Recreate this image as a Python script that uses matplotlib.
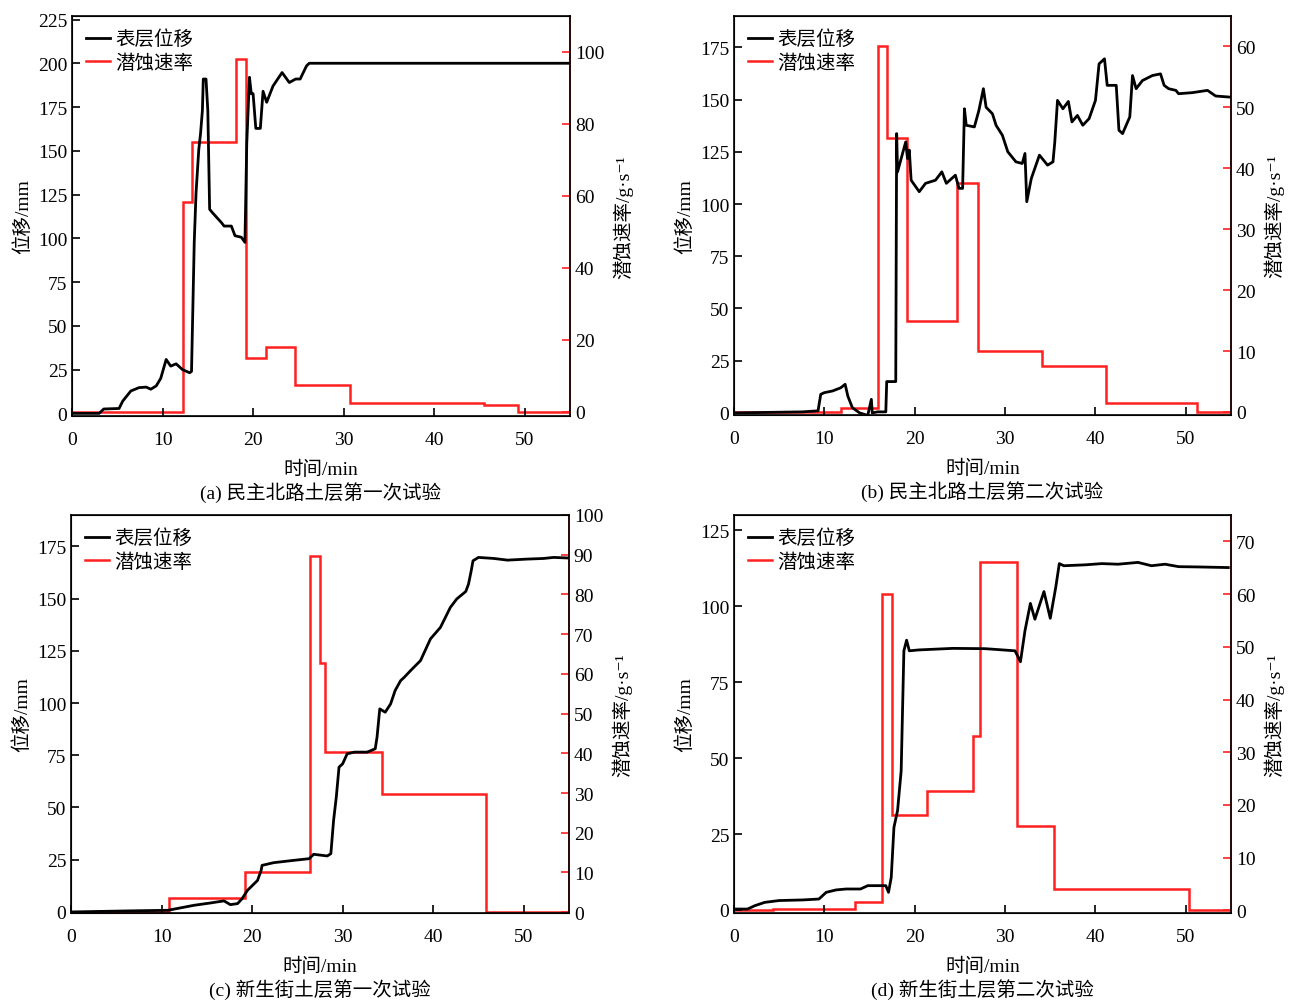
import numpy as np
import matplotlib
matplotlib.use('Agg')
import matplotlib.pyplot as plt

plt.rcParams['font.family'] = ['Liberation Serif', 'Noto Sans CJK SC', 'DejaVu Serif']
plt.rcParams['axes.unicode_minus'] = False

# ---------- (a) 民主北路土层第一次试验 ----------
t_a = [0, 3.0, 3.5, 5.2, 5.6, 6.5, 7.4, 8.2, 8.7, 9.3, 9.8, 10.4, 10.9, 11.5, 12.2, 13.0,
       13.2, 13.5, 13.7, 14.0, 14.2, 14.4, 14.5, 14.8, 15.0, 15.2, 15.5, 16.5, 16.8, 17.6,
       18.0, 18.7, 19.1, 19.3, 19.6, 19.8, 20.0, 20.3, 20.8, 21.1, 21.5, 22.2, 23.2, 24.0,
       24.7, 25.2, 25.9, 26.2, 55]
d_a = [0, 0, 2.5, 2.8, 7, 12.8, 14.7, 15, 13.8, 15.7, 20, 30.8, 27, 28.3, 25, 23.2,
       24, 97.7, 126, 150.6, 160, 173, 191, 191, 173, 116.6, 114.7, 109, 107, 107,
       101.5, 100.6, 97.7, 154, 192, 182.6, 182.6, 162.8, 162.8, 184, 177.7, 187, 194.7, 189,
       191, 191, 198.5, 200, 200]
e_a = [0, 12.3, 13.3, 18.1, 19.2, 21.4, 24.6, 30.7, 45.5, 49.3, 55]
r_a = [0, 58.3, 75, 98, 15, 18, 7.4, 2.5, 1.9, 0]

# ---------- (b) 民主北路土层第二次试验 ----------
t_b = [0, 7.6, 9.3, 9.6, 10.0, 10.9, 11.8, 12.3, 12.6, 13.1, 13.9, 14.8, 15.2, 15.3, 15.9,
       16.8, 16.9, 17.9, 18.0, 18.1, 19.0, 19.2, 19.4, 19.6, 20.5, 21.2, 22.3, 23.0, 23.5,
       24.5, 24.9, 25.3, 25.5, 25.7, 26.6, 27.1, 27.6, 27.9, 28.6, 29.0, 29.7, 30.3, 30.6,
       31.2, 31.9, 32.2, 32.4, 32.9, 33.8, 34.7, 35.3, 35.5, 35.8, 36.4, 37.0, 37.4, 38.0,
       38.6, 39.3, 40.0, 40.4, 41.0, 41.3, 42.3, 42.6, 43.0, 43.8, 44.1, 44.5, 45.2, 46.3,
       47.2, 47.6, 48.1, 48.9, 49.2, 50.7, 52.4, 53.3, 54.8]
d_b = [0, 0.5, 1, 8.9, 9.7, 10.5, 12, 13.7, 8, 2.5, 0, -1.2, 6.5, 0, 0.5,
       0.5, 15, 15, 133.7, 115.4, 129.7, 121.8, 125.8, 111.4, 105.9, 109.9, 111.4, 115.4, 109.9,
       113.8, 107.5, 107.5, 145.6, 137.7, 136.9, 144.8, 155.2, 146.3, 143.2, 137.7, 132.9, 125, 123.4,
       120.2, 119.4, 124.2, 101.1, 112.2, 123.4, 118.6, 120.2, 129.7, 149.6, 145.6, 149.1, 139.3, 142.4,
       137.7, 140.9, 149.6, 167.1, 169.5, 156.8, 156.8, 135.3, 133.7, 141.7, 161.5, 155.2, 159.1, 161.5,
       162.3, 156.8, 155.2, 154.4, 152.8, 153.3, 154.4, 151.7, 151.2]
e_b = [0, 11.8, 15.9, 16.9, 19.1, 24.7, 27.0, 34.1, 41.2, 51.2, 55]
r_b = [0, 0.66, 60, 45, 15, 37.6, 10, 7.5, 1.5, 0]

# ---------- (c) 新生街土层第一次试验 ----------
t_c = [0, 6.25, 10.7, 13.6, 15.4, 16.9, 17.6, 18.4, 18.9, 19.5, 20.6, 21.0, 21.1, 22.4,
       24.6, 26.3, 26.8, 28.3, 28.7, 29.0, 29.3, 29.6, 30.0, 30.5, 31.3, 32.7, 33.6, 33.8,
       34.1, 34.7, 35.3, 35.8, 36.4, 36.8, 37.5, 38.6, 39.7, 40.8, 41.9, 42.6, 43.6, 43.9,
       44.2, 44.4, 45.0, 46.7, 48.2, 50.4, 52.2, 53.3, 55]
d_c = [0, 0.5, 0.8, 3.2, 4.3, 5.3, 3.5, 4, 6.4, 10.4, 15.1, 19.9, 22.3, 23.6,
       24.7, 25.5, 27.6, 26.8, 27.9, 43.8, 55, 69.3, 70.9, 75.7, 76.5, 76.5, 78.1, 83.7,
       97.2, 95.6, 99.6, 106, 110.7, 112.3, 115.5, 120.3, 130.7, 136.2, 145.8, 149.8, 153.4, 156.9,
       163.3, 168.1, 169.7, 169.2, 168.4, 168.9, 169.2, 169.7, 169.4]
e_c = [0, 10.8, 19.2, 26.4, 27.5, 28.0, 34.3, 45.8, 55]
r_c = [0, 3.5, 10.2, 89.6, 62.7, 40.4, 29.8, 0]

# ---------- (d) 新生街土层第二次试验 ----------
t_d = [0, 1.5, 2.3, 3.4, 5.0, 7.6, 9.4, 10.2, 11.3, 12.4, 14.0, 14.8, 16.8, 17.1, 17.4,
       17.7, 18.1, 18.5, 18.8, 19.1, 19.4, 20.5, 24.2, 27.8, 31.1, 31.7, 32.2, 32.8, 33.3,
       34.3, 35.0, 35.6, 36.0, 36.5, 38.9, 40.7, 42.5, 44.7, 46.2, 47.7, 49.2, 51.4, 54.7]
d_d = [0.3, 0.3, 1.4, 2.5, 3.1, 3.3, 3.6, 5.8, 6.6, 6.9, 6.9, 8, 8, 5.8, 10.7,
       27.2, 32.7, 45.8, 85.3, 88.8, 85.3, 85.6, 86.1, 86, 85.3, 81.7, 91.9, 100.9, 95.7,
       104.8, 96, 106.1, 114, 113.3, 113.6, 114, 113.8, 114.4, 113.3, 113.8, 113, 112.9, 112.7]
e_d = [0, 4.3, 13.4, 16.4, 17.5, 21.4, 26.4, 27.2, 31.3, 35.4, 50.3, 55]
r_d = [0, 0.3, 1.5, 60, 18, 22.6, 33, 66, 16, 4, 0]

captions = ['(a) 民主北路土层第一次试验', '(b) 民主北路土层第二次试验',
            '(c) 新生街土层第一次试验', '(d) 新生街土层第二次试验']

panels = [
    (t_a, d_a, e_a, r_a, (-1.5, 227), np.arange(0, 226, 25), (-1.2, 110), np.arange(0, 101, 20)),
    (t_b, d_b, e_b, r_b, (-1, 190), np.arange(0, 176, 25), (-0.5, 65), np.arange(0, 61, 10)),
    (t_c, d_c, e_c, r_c, (-0.5, 190), np.arange(0, 176, 25), (-0.2, 100), np.arange(0, 101, 10)),
    (t_d, d_d, e_d, r_d, (-1, 130), np.arange(0, 126, 25), (-0.5, 75), np.arange(0, 71, 10)),
]

W, H = 1291, 1003
fig = plt.figure(figsize=(W / 100, H / 100), dpi=100)
boxes = [(72, 570, 17, 417), (734, 1231, 17, 416), (71, 569, 516, 914), (734, 1231, 516, 914)]

fs = 14
red = '#ff2020'
for i, (t, d, e, r, yl, yt, yl2, yt2) in enumerate(panels):
    x0, x1, y0, y1 = boxes[i]
    ax = fig.add_axes([x0 / W, 1 - y1 / H, (x1 - x0) / W, (y1 - y0) / H])
    ax2 = ax.twinx()
    ax.set_zorder(ax2.get_zorder() + 1)
    ax.patch.set_visible(False)

    l1, = ax.plot(t, d, color='black', lw=2)
    ax2.stairs(r, e, baseline=None, color=red, lw=1.8)
    l2, = ax.plot([], [], color=red, lw=1.8)

    ax.set_xlim(0, 55)
    ax.set_ylim(*yl)
    ax.set_xticks(np.arange(0, 51, 10))
    ax.set_yticks(yt)
    ax2.set_ylim(*yl2)
    ax2.set_yticks(yt2)

    ax.tick_params(direction='in', length=6, width=1.2, labelsize=fs, top=False, right=False)
    ax.tick_params(axis='x', pad=11)
    ax2.tick_params(direction='in', length=6, width=1.2, labelsize=fs, colors=red,
                    labelcolor='black')
    for s in ax.spines.values():
        s.set_linewidth(1.2)
    ax2.spines['right'].set_color(red)
    ax2.spines['right'].set_linewidth(1.2)

    ax.set_ylabel('位移/mm', fontsize=fs, labelpad=4)
    ax2.set_ylabel('潜蚀速率/g·s⁻¹', fontsize=fs, labelpad=6)
    ax.set_xlabel('时间/min', fontsize=fs, labelpad=8)

    ax.legend([l1, l2], ['表层位移', '潜蚀速率'], loc='upper left', frameon=False,
              fontsize=fs, handlelength=1.25, handletextpad=0.3, borderaxespad=0.5,
              labelspacing=0.25, borderpad=0.2)

    ax.text(0.5, -0.19, captions[i], transform=ax.transAxes, ha='center', va='center',
            fontsize=fs)

fig.savefig('out.png', dpi=100)
